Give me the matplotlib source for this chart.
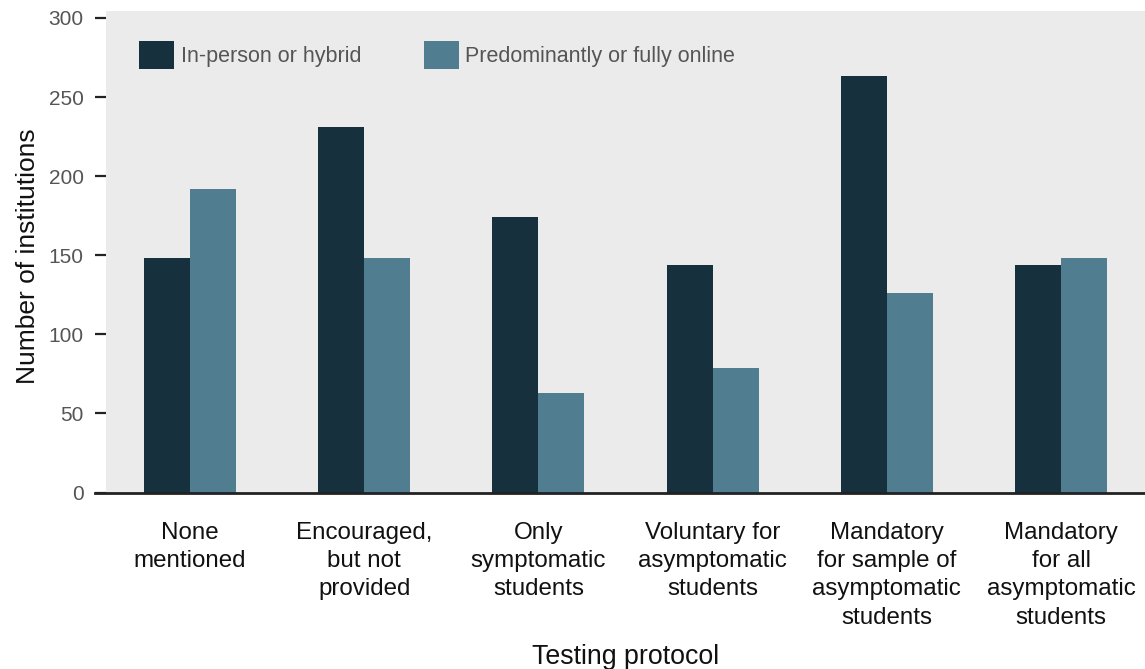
import matplotlib
matplotlib.use("Agg")
import matplotlib.pyplot as plt
import numpy as np

categories = ["None\nmentioned", "Encouraged,\nbut not\nprovided", "Only\nsymptomatic\nstudents",
              "Voluntary for\nasymptomatic\nstudents", "Mandatory\nfor sample of\nasymptomatic\nstudents",
              "Mandatory\nfor all\nasymptomatic\nstudents"]
in_person = [148, 231, 174, 144, 263, 144]
online = [192, 148, 63, 79, 126, 148]
series_names = ["In-person or hybrid", "Predominantly or fully online"]
yticks = [0, 50, 100, 150, 200, 250, 300]

plt.rcParams['font.family'] = ['Liberation Sans', 'DejaVu Sans']

fig = plt.figure(figsize=(11.45, 6.69), dpi=100)
ax = fig.add_axes([106/1145, 1 - 492.5/669, 1 - 106/1145, (492.5 - 11)/669])
ax.set_facecolor('#ebebeb')

x = np.arange(len(categories))
w = 0.264
ax.bar(x - w/2, in_person, w, color='#16313d', label=series_names[0], zorder=2)
ax.bar(x + w/2, online, w, color='#517d90', label=series_names[1], zorder=2)

ax.set_xlim(-0.482, 5.482)
ax.set_ylim(0, 304.4)
ax.set_yticks(yticks)
ax.set_yticklabels([str(v) for v in yticks], fontsize=15, color='#555555')
ax.tick_params(axis='y', direction='out', length=8, width=1.6, color='#222222', pad=8)
ax.set_xticks(x)
ax.set_xticklabels(categories, fontsize=17.4, color='#111111', linespacing=1.37, va='top')
ax.tick_params(axis='x', length=0, pad=21)

for s in ax.spines.values():
    s.set_visible(False)
ax.axhline(0, xmin=-11/1039, xmax=1, clip_on=False, color='#222222', lw=2, zorder=3)

ax.set_ylabel("Number of institutions", fontsize=19, color='#111111')
ax.yaxis.set_label_coords(-66/1039, 0.49, transform=ax.transAxes)
ax.set_xlabel("Testing protocol", fontsize=19.3, color='#111111', labelpad=11)

leg = ax.legend(loc='upper left', bbox_to_anchor=(0.0318, 0.9377), ncol=2, frameon=False,
                borderpad=0, borderaxespad=0, handlelength=1.63, handleheight=1.63,
                handletextpad=0.3, columnspacing=2.9, fontsize=15.5)
for t in leg.get_texts():
    t.set_color('#555555')

fig.savefig("out.png", dpi=100)
